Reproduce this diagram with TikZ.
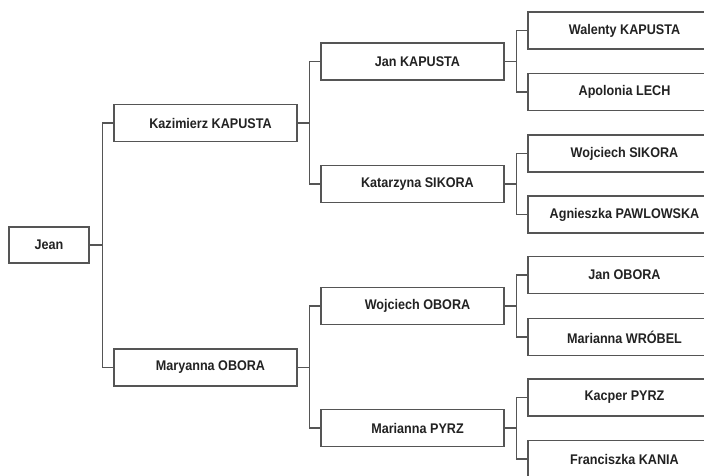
\documentclass[tikz,border=0pt]{standalone}
\usepackage{fontspec}
\setmainfont[FakeStretch=0.9]{Liberation Sans}
\definecolor{linecol}{HTML}{555555}
\definecolor{txtcol}{HTML}{222222}
\begin{document}
\begin{tikzpicture}[x=1pt,y=-1pt,
  person/.style={draw=linecol,line width=1.2pt,fill=white,minimum width=183pt,minimum height=37pt,inner sep=0pt,
    font=\fontsize{14}{16}\selectfont\bfseries,text=txtcol},
  root/.style={person,minimum width=80pt,minimum height=36pt},
  link/.style={draw=linecol,line width=1.1pt}]
\useasboundingbox (0,0) rectangle (704,475);
\node[root] (jean) at (49,245) {Jean};
\node[person] (kaz) at (205.5,123) {\hspace*{10pt}Kazimierz KAPUSTA};
\node[person] (mary) at (205.5,367.5) {\hspace*{10pt}Maryanna OBORA};
\node[person] (jank) at (412.5,61.5) {\hspace*{10pt}Jan KAPUSTA};
\node[person] (kat) at (412.5,184) {\hspace*{10pt}Katarzyna SIKORA};
\node[person] (wojo) at (412.5,306) {\hspace*{10pt}Wojciech OBORA};
\node[person] (marp) at (412.5,428) {\hspace*{10pt}Marianna PYRZ};
\node[person] (wal) at (619.5,30.5) {\hspace*{10pt}Walenty KAPUSTA};
\node[person] (apo) at (619.5,92) {\hspace*{10pt}Apolonia LECH};
\node[person] (wojs) at (619.5,153.5) {\hspace*{10pt}Wojciech SIKORA};
\node[person] (agn) at (619.5,214.5) {\hspace*{10pt}Agnieszka PAWLOWSKA};
\node[person] (jano) at (619.5,275) {\hspace*{10pt}Jan OBORA};
\node[person] (marw) at (619.5,337) {\hspace*{10pt}Marianna WRÓBEL};
\node[person] (kac) at (619.5,397.5) {\hspace*{10pt}Kacper PYRZ};
\node[person] (fra) at (619.5,459) {\hspace*{10pt}Franciszka KANIA};
% connectors
\draw[link] (jean.east) -- ++(13,0) coordinate (b0);
\draw[link] (kaz.west) -| (b0) |- (mary.west);
\draw[link] (kaz.east) -- ++(12,0) coordinate (b1);
\draw[link] (jank.west) -| (b1) |- (kat.west);
\draw[link] (mary.east) -- ++(12,0) coordinate (b2);
\draw[link] (wojo.west) -| (b2) |- (marp.west);
\draw[link] (jank.east) -- ++(12,0) coordinate (b3);
\draw[link] (wal.west) -| (b3) |- (apo.west);
\draw[link] (kat.east) -- ++(12,0) coordinate (b4);
\draw[link] (wojs.west) -| (b4) |- (agn.west);
\draw[link] (wojo.east) -- ++(12,0) coordinate (b5);
\draw[link] (jano.west) -| (b5) |- (marw.west);
\draw[link] (marp.east) -- ++(12,0) coordinate (b6);
\draw[link] (kac.west) -| (b6) |- (fra.west);
\end{tikzpicture}
\end{document}
